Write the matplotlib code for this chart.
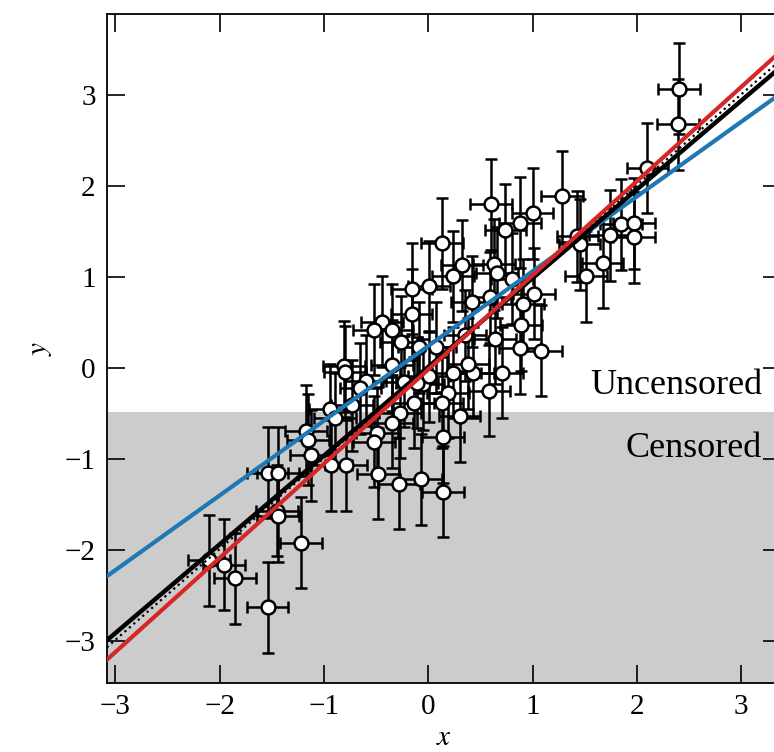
import numpy as np
import matplotlib
matplotlib.use("Agg")
import matplotlib.pyplot as plt

# %%
# data
x_pts = [2.40, 2.39, 2.10, 1.28, 1.43, 1.45, 1.74, 1.85, 1.97, 1.97, 1.67, 1.51,
         0.60, 1.00, 0.88, 0.74, 0.13, 0.32, 0.63, 0.24, 0.66, 0.80, 0.01, 1.01,
         0.59, 0.42, 0.91, 0.89, 0.64, 0.88, 1.08, 0.35, 0.24, 0.43, 0.71, 0.38,
         0.58, 0.19, 0.13, 0.30, 0.14, -0.07, 0.14, -0.05, -0.27, -0.28,
         -0.94, -0.89, -0.73, -1.17, -1.15, -1.12, -0.93, -0.79, -0.35, -0.49, -0.52, -0.48,
         -1.54, -1.44, -1.45, -1.44, -1.22, -2.10, -1.96, -1.85, -1.54,
         -0.16, -0.16, -0.44, -0.52, -0.35, -0.26, -0.09, -0.81, -0.35, -0.60, -0.65,
         0.01, -0.23, 0.07, -0.11, -0.14, -0.80]
y_pts = [3.07, 2.68, 2.20, 1.89, 1.45, 1.36, 1.46, 1.58, 1.59, 1.44, 1.16, 1.01,
         1.80, 1.70, 1.60, 1.52, 1.37, 1.13, 1.14, 1.01, 1.05, 0.98, 0.90, 0.82,
         0.78, 0.73, 0.70, 0.47, 0.32, 0.22, 0.19, 0.36, -0.05, -0.05, -0.05, 0.05,
         -0.25, -0.27, -0.38, -0.53, -0.76, -1.22, -1.36, -0.18, -0.49, -1.27,
         -0.45, -0.55, -0.41, -0.69, -0.79, -0.96, -1.07, -1.07, -0.60, -0.71, -0.81, -1.16,
         -1.15, -1.15, -1.57, -1.63, -1.92, -2.11, -2.16, -2.31, -2.63,
         0.87, 0.59, 0.51, 0.42, 0.42, 0.29, 0.23, 0.02, 0.03, -0.14, -0.22,
         -0.09, -0.15, 0.23, -0.16, -0.38, -0.04]
x_err = 0.2
y_err = 0.5

y_cut = -0.48  # censoring limit

# fitted lines: (slope, intercept)
fit_all = (0.976, 0.013)      # black
fit_true = (1.0, 0.01)        # dotted
fit_cens = (1.036, -0.016)    # red
fit_uncens = (0.822, 0.243)   # blue

# %%
plt.rcParams['font.family'] = ['Liberation Serif', 'DejaVu Serif']
plt.rcParams['mathtext.fontset'] = 'stix'

fig = plt.figure(figsize=(7.74, 7.52), dpi=100)
ax = fig.add_axes([0.138, 0.092, 0.871, 0.889])

xlim = (-3.08, 3.38)
ylim = (-3.46, 3.89)

ax.axhspan(ylim[0], y_cut, color='#cccccc', lw=0, zorder=0)

ax.errorbar(x_pts, y_pts, xerr=x_err, yerr=y_err, fmt='o', color='k',
            mfc='white', mec='k', ms=10, mew=1.8, elinewidth=1.8,
            capsize=4.5, capthick=1.8, zorder=2)

xx = np.array(xlim)
ax.plot(xx, fit_uncens[0] * xx + fit_uncens[1], color='#1f77b4', lw=3, zorder=3)
ax.plot(xx, fit_all[0] * xx + fit_all[1], color='k', lw=3.2, zorder=4)
ax.plot(xx, fit_true[0] * xx + fit_true[1], color='k', lw=1.6, ls=':', zorder=4)
ax.plot(xx, fit_cens[0] * xx + fit_cens[1], color='#d62728', lw=3, zorder=5)

ax.text(3.20, -0.29, 'Uncensored', ha='right', va='baseline', fontsize=26)
ax.text(3.20, -0.98, 'Censored', ha='right', va='baseline', fontsize=26)

ax.set_xlim(xlim)
ax.set_ylim(ylim)
ax.set_xticks([-3, -2, -1, 0, 1, 2, 3])
ax.set_yticks([-3, -2, -1, 0, 1, 2, 3])
ax.tick_params(direction='in', top=True, right=True, length=13, width=1.2,
               labelsize=21, pad=8)
for s in ax.spines.values():
    s.set_linewidth(1.3)

ax.set_xlabel('$x$', fontsize=21, labelpad=4)
ax.set_ylabel('$y$', fontsize=21, labelpad=8)

fig.savefig('out.png', dpi=100)
